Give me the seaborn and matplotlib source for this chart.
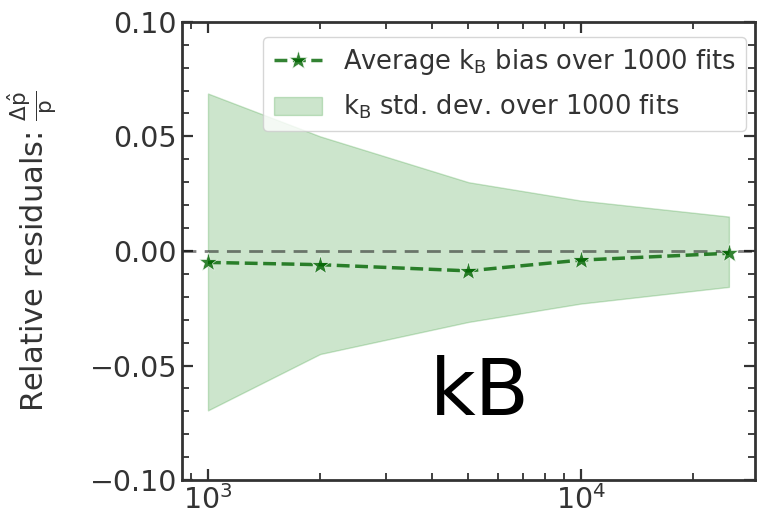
import matplotlib
matplotlib.use("Agg")
import matplotlib.pyplot as plt
import matplotlib.ticker as mticker
import seaborn as sns
import pandas as pd

# Sample sizes and fit statistics for the kB parameter
n_points = [1000, 2000, 5000, 10000, 25000]
mean_bias = [-0.005, -0.006, -0.0087, -0.004, -0.001]
std_upper = [0.0687, 0.050, 0.030, 0.022, 0.015]
std_lower = [-0.0696, -0.045, -0.031, -0.023, -0.0157]

sns.set_theme(style="ticks")
plt.rcParams["font.family"] = ["DejaVu Sans"]
plt.rcParams["mathtext.fontset"] = "dejavusans"
text_color = "#333333"

df = pd.DataFrame({"n": n_points, "bias": mean_bias})

fig = plt.figure(figsize=(7.58, 5.19), dpi=100)
ax = fig.add_axes([0.240, 0.075, 0.756, 0.883])

ax.axhline(0.0, color="k", alpha=0.55, ls="--", lw=2.0, dashes=(5, 3))

ax.fill_between(n_points, std_lower, std_upper, color="green", alpha=0.2, lw=1,
                label=r"$\mathrm{k_B}$ std. dev. over 1000 fits")
sns.lineplot(data=df, x="n", y="bias", ax=ax, color="darkgreen", alpha=0.8,
             lw=2.5, ls="--", marker="*", markersize=14, markeredgewidth=0.5,
             label=r"Average $\mathrm{k_B}$ bias over 1000 fits")

ax.set_xscale("log")
ax.xaxis.set_minor_locator(mticker.LogLocator(base=10, subs=range(2, 10), numticks=20))
ax.xaxis.set_minor_formatter(mticker.NullFormatter())
ax.set_ylim(-0.10, 0.10)
ax.set_yticks([-0.10, -0.05, 0.0, 0.05, 0.10])
ax.yaxis.set_minor_locator(mticker.MultipleLocator(0.01))
ax.set_xlabel("")
ax.set_ylabel(r"Relative residuals: $\frac{\Delta\hat{\mathrm{p}}}{\mathrm{p}}$",
              fontsize=22, color=text_color, labelpad=22)

for side in ax.spines.values():
    side.set_linewidth(2.0)
    side.set_color("#333333")

ax.tick_params(which="both", direction="in", top=True, right=True,
               colors="#333333", labelcolor=text_color, labelsize=20.5)
ax.tick_params(which="major", length=8, width=1.6)
ax.tick_params(which="minor", length=5, width=1.3)

handles, labels = ax.get_legend_handles_labels()
order = [1, 0]
leg = ax.legend([handles[i] for i in order], [labels[i] for i in order],
                loc="upper right", bbox_to_anchor=(0.984, 0.967),
                borderaxespad=0.0, fontsize=18.5, frameon=True, fancybox=True,
                framealpha=0.8, edgecolor="#cccccc", labelcolor=text_color,
                labelspacing=0.6, handlelength=1.9)

ax.text(0.52, 0.19, "kB", transform=ax.transAxes, fontsize=57, color="black",
        ha="center", va="center")

fig.savefig("out.png", dpi=100)
